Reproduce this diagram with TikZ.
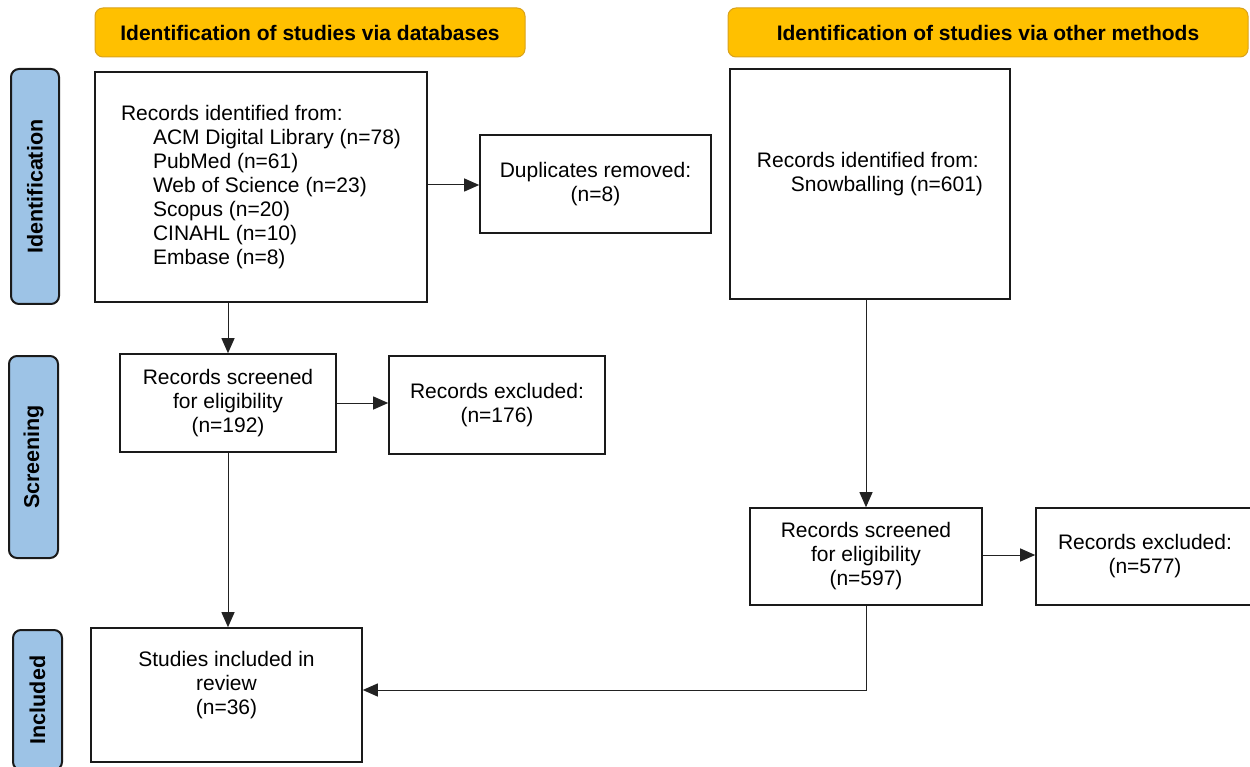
\documentclass[tikz,border=0pt]{standalone}
\usepackage{fontspec}
\setmainfont{Liberation Sans}
\usetikzlibrary{arrows.meta,calc}
\definecolor{hdrfill}{HTML}{FFC000}
\definecolor{hdrline}{HTML}{D9A21B}
\definecolor{tabfill}{HTML}{9DC3E6}
\definecolor{boxline}{HTML}{1A1A1A}
\definecolor{arrline}{HTML}{222222}
\begin{document}
\begin{tikzpicture}[x=1pt,y=-1pt,
  txt/.style={font=\fontsize{21}{24}\selectfont},
  flowbox/.style={txt,draw=boxline,line width=1.6pt,fill=white,inner sep=0pt,align=center},
  hdr/.style={draw=hdrline,line width=1pt,fill=hdrfill,rounded corners=8pt,inner sep=0pt,
    font=\fontsize{21}{24}\selectfont\bfseries},
  phase/.style={draw=boxline,line width=2pt,fill=tabfill,rounded corners=8pt,inner sep=0pt,
    rotate=90,font=\fontsize{21.5}{24}\selectfont\bfseries},
  conn/.style={draw=arrline,line width=1pt,-{Triangle[length=15pt,width=13pt]}}]
\useasboundingbox (0,0) rectangle (1250,767);
% headers
\node[hdr,minimum width=430,minimum height=49] (hL) at (310,32.5) {Identification of studies via databases};
\node[hdr,minimum width=520,minimum height=49] (hR) at (988,32.5) {Identification of studies via other methods};
% phase tabs
\node[phase,minimum width=235,minimum height=48] (tI) at (35,186.5) {Identification};
\node[phase,minimum width=202,minimum height=49] (tS) at (33.5,457) {Screening};
\node[phase,minimum width=140,minimum height=49] (tN) at (37.5,700) {Included};
% boxes
\node[flowbox,align=left,minimum width=332,minimum height=230] (rec) at (261,187)
 {Records identified from:\\
  \hspace*{32pt}ACM Digital Library (n=78)\\
  \hspace*{32pt}PubMed (n=61)\\
  \hspace*{32pt}Web of Science (n=23)\\
  \hspace*{32pt}Scopus (n=20)\\
  \hspace*{32pt}CINAHL (n=10)\\
  \hspace*{32pt}Embase (n=8)};
\node[flowbox,minimum width=231,minimum height=98] (dup) at (595.5,184) {Duplicates removed:\\(n=8)};
\node[flowbox,align=left,minimum width=280,minimum height=230] (snow) at (870,184)
 {Records identified from:\\ \hspace*{34pt}Snowballing (n=601)\\ ~};
\node[flowbox,minimum width=216,minimum height=98] (scrL) at (228,403) {Records screened\\for eligibility\\(n=192)};
\node[flowbox,minimum width=216,minimum height=98] (exL) at (497,405) {Records excluded:\\(n=176)};
\node[flowbox,minimum width=232,minimum height=97] (scrR) at (866,556.5) {Records screened\\for eligibility\\(n=597)};
\node[flowbox,minimum width=218,minimum height=97] (exR) at (1145,556.5) {Records excluded:\\(n=577)};
\node[flowbox,minimum width=271,minimum height=134] (inc) at (226.5,695) {Studies included in\\review\\(n=36)\\ ~};
% connectors
\coordinate (bend) at (scrR.south |- 0,690);
\draw[conn] (rec.east |- 0,185) -- (dup.west |- 0,185);
\draw[conn] (scrL.north |- rec.south) -- (scrL.north);
\draw[conn] (scrL.east) -- (scrL.east -| exL.west);
\draw[conn] (scrL.south) -- (scrL.south |- inc.north);
\draw[conn] (scrR.north |- snow.south) -- (scrR.north);
\draw[conn] (scrR.east |- 0,555) -- (exR.west |- 0,555);
\draw[conn] (scrR.south) -- (bend) -- (inc.east |- bend);
\end{tikzpicture}
\end{document}
